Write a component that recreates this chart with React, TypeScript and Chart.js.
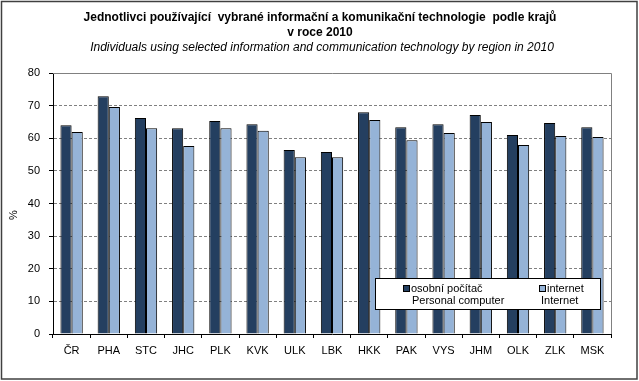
import React, { useEffect, useRef } from "react";
import { Chart, registerables } from "chart.js";

Chart.register(...registerables);

const categories = ["ČR", "PHA", "STC", "JHC", "PLK", "KVK", "ULK", "LBK", "HKK", "PAK", "VYS", "JHM", "OLK", "ZLK", "MSK"];
const personalComputer = [64.0, 72.9, 66.2, 63.1, 65.3, 64.3, 56.4, 55.8, 68.0, 63.4, 64.3, 67.1, 61.0, 64.7, 63.4];
const internet = [61.9, 69.6, 63.1, 57.6, 63.1, 62.3, 54.2, 54.2, 65.6, 59.4, 61.6, 65.0, 57.9, 60.7, 60.4];
const yTicks = [0, 10, 20, 30, 40, 50, 60, 70, 80];

const titleLine1 = "Jednotlivci používající  vybrané informační a komunikační technologie  podle krajů";
const titleLine2 = "v roce 2010";
const subtitle = "Individuals using selected information and communication technology by region in 2010";
const legendCz = ["osobní počítač", "internet"];
const legendEn = ["Personal computer", "Internet"];

const DARK = "#243F60";
const LIGHT = "#95B3D7";
const FONT = "'Liberation Sans', Arial, sans-serif";

const decorPlugin = {
  id: "decor",
  beforeDraw(chart: any) {
    const ctx = chart.ctx;
    ctx.save();
    ctx.fillStyle = "#fff";
    ctx.fillRect(0, 0, chart.width, chart.height);
    ctx.restore();
  },
  afterDraw(chart: any) {
    const ctx = chart.ctx;
    const a = chart.chartArea;
    ctx.save();
    // plot area border top/right
    ctx.strokeStyle = "#808080";
    ctx.lineWidth = 1;
    ctx.setLineDash([]);
    ctx.beginPath();
    ctx.moveTo(a.left, a.top + 0.5);
    ctx.lineTo(a.right + 0.5, a.top + 0.5);
    ctx.lineTo(a.right + 0.5, a.bottom);
    ctx.stroke();
    // outer frame
    ctx.strokeStyle = "#404040";
    ctx.lineWidth = 1.5;
    ctx.strokeRect(1.5, 1.5, 635.5, 377.5);
    // titles
    ctx.fillStyle = "#000";
    ctx.textAlign = "center";
    ctx.textBaseline = "middle";
    ctx.font = "bold 12px " + FONT;
    ctx.fillText(titleLine1, 320, 18);
    ctx.fillText(titleLine2, 320, 33);
    ctx.font = "italic 12px " + FONT;
    ctx.fillText(subtitle, 322, 48);
    // y axis title
    ctx.save();
    ctx.translate(14, 215);
    ctx.rotate(-Math.PI / 2);
    ctx.font = "11px " + FONT;
    ctx.fillText("%", 0, 0);
    ctx.restore();
    // legend
    const lx = 375.5, ly = 278.5, lw = 225, lh = 31;
    ctx.fillStyle = "#fff";
    ctx.fillRect(lx, ly, lw, lh);
    ctx.strokeStyle = "#000";
    ctx.lineWidth = 1;
    ctx.strokeRect(lx, ly, lw, lh);
    ctx.font = "11px " + FONT;
    ctx.textAlign = "left";
    ctx.textBaseline = "middle";
    // item 1
    ctx.fillStyle = DARK;
    ctx.fillRect(403, 285, 6, 6);
    ctx.strokeRect(403.5, 285.5, 6, 6);
    ctx.fillStyle = "#000";
    ctx.fillText(legendCz[0], 411, 289);
    ctx.fillText(legendEn[0], 412, 301);
    // item 2
    ctx.fillStyle = LIGHT;
    ctx.fillRect(539, 285, 6, 6);
    ctx.strokeRect(539.5, 285.5, 6, 6);
    ctx.fillStyle = "#000";
    ctx.fillText(legendCz[1], 547, 289);
    ctx.fillText(legendEn[1], 541, 301);
    ctx.restore();
  },
};

export default function App() {
  const ref = useRef<HTMLCanvasElement>(null);
  useEffect(() => {
    document.body.style.margin = "0";
    const chart = new Chart(ref.current as HTMLCanvasElement, {
      type: "bar",
      data: {
        labels: categories,
        datasets: [
          { label: "osobní počítač", data: personalComputer, backgroundColor: DARK, borderColor: "#000", borderWidth: 1 },
          { label: "internet", data: internet, backgroundColor: LIGHT, borderColor: "#000", borderWidth: 1 },
        ],
      },
      options: {
        responsive: false,
        animation: false,
        devicePixelRatio: 1,
        layout: { padding: { top: 73, right: 28, left: 0, bottom: 0 } },
        datasets: { bar: { categoryPercentage: 0.6, barPercentage: 1.0 } },
        plugins: { legend: { display: false }, title: { display: false }, tooltip: { enabled: false } },
        scales: {
          x: {
            afterFit: (s: any) => { s.height = 47; },
            grid: { offset: true, drawOnChartArea: false, tickLength: 4, tickColor: "#000", color: "#000" },
            border: { color: "#000", width: 1 },
            ticks: { color: "#000", font: { family: FONT, size: 11 }, padding: 6, maxRotation: 0, autoSkip: false },
          },
          y: {
            min: 0,
            max: 80,
            afterFit: (s: any) => { s.width = 53; },
            afterBuildTicks: (s: any) => { s.ticks = yTicks.map((v) => ({ value: v })); },
            grid: { color: "#808080", tickLength: 4, tickColor: "#000", tickBorderDash: [] } as any,
            border: { color: "#000", width: 1, dash: [3, 2] },
            ticks: { color: "#000", font: { family: FONT, size: 11 }, padding: 9 },
          },
        },
      },
      plugins: [decorPlugin],
    });
    return () => chart.destroy();
  }, []);
  return <canvas ref={ref} width={639} height={381} style={{ display: "block" }} />;
}
